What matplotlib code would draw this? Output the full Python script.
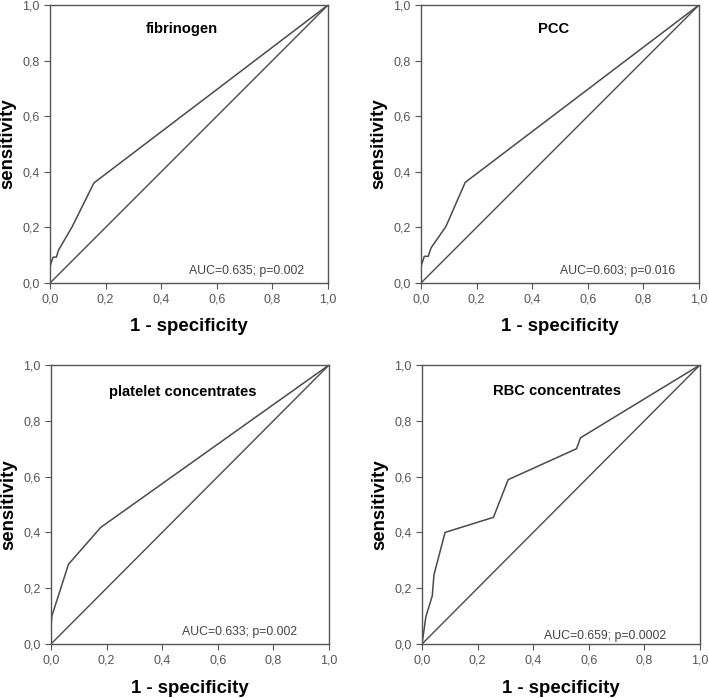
import matplotlib
matplotlib.use('Agg')
import matplotlib.pyplot as plt
from matplotlib.ticker import FuncFormatter

plt.rcParams['font.family'] = ['Liberation Sans', 'DejaVu Sans']

# ROC curves (1 - specificity, sensitivity)
fib_x = [0.0, 0.0, 0.011, 0.023, 0.030, 0.080, 0.158, 1.0]
fib_y = [0.0, 0.060, 0.093, 0.093, 0.117, 0.203, 0.360, 1.0]

pcc_x = [0.0, 0.0, 0.012, 0.026, 0.036, 0.090, 0.159, 1.0]
pcc_y = [0.0, 0.060, 0.096, 0.096, 0.126, 0.204, 0.362, 1.0]

plt_x = [0.0, 0.0, 0.003, 0.063, 0.179, 1.0]
plt_y = [0.0, 0.060, 0.100, 0.286, 0.418, 1.0]

rbc_x = [0.0, 0.014, 0.037, 0.043, 0.083, 0.257, 0.310, 0.556, 0.570, 1.0]
rbc_y = [0.0, 0.098, 0.173, 0.248, 0.400, 0.454, 0.589, 0.700, 0.739, 1.0]

titles = ['fibrinogen', 'PCC', 'platelet concentrates', 'RBC concentrates']
auc_labels = ['AUC=0.635; p=0.002', 'AUC=0.603; p=0.016',
              'AUC=0.633; p=0.002', 'AUC=0.659; p=0.0002']
curves = [(fib_x, fib_y), (pcc_x, pcc_y), (plt_x, plt_y), (rbc_x, rbc_y)]
ticks = [0.0, 0.2, 0.4, 0.6, 0.8, 1.0]

# axes placement in figure fractions
rects = [
    [50 / 709, 1 - 283 / 698, 278 / 709, 278 / 698],
    [421 / 709, 1 - 283 / 698, 278 / 709, 278 / 698],
    [51 / 709, 1 - 644 / 698, 278 / 709, 279 / 698],
    [422 / 709, 1 - 644 / 698, 278 / 709, 279 / 698],
]
title_pos = [(0.475, 0.915), (0.478, 0.915), (0.474, 0.903), (0.486, 0.906)]
auc_pos = [(0.914, 0.02), (0.914, 0.02), (0.885, 0.02), (0.878, 0.008)]
xlabel_pad = [9, 9, 10, 10]

fig = plt.figure(figsize=(7.09, 6.98), dpi=100)
fmt = FuncFormatter(lambda v, p: ('%.1f' % v).replace('.', ','))

for i in range(4):
    ax = fig.add_axes(rects[i])
    cx, cy = curves[i]
    ax.plot([0, 1], [0, 1], color='#4a4a4a', lw=1.0)
    ax.plot(cx, cy, color='#4a4a4a', lw=1.1)
    ax.set_xlim(0, 1)
    ax.set_ylim(0, 1)
    ax.set_xticks(ticks)
    ax.set_yticks(ticks)
    ax.xaxis.set_major_formatter(fmt)
    ax.yaxis.set_major_formatter(fmt)
    ax.tick_params(length=4, width=0.8, color='#555555', labelcolor='#555555',
                   labelsize=9, pad=3.5)
    for s in ax.spines.values():
        s.set_color('#555555')
        s.set_linewidth(1.0)
    ax.set_xlabel('1 - specificity', fontsize=13.4, fontweight='bold',
                  labelpad=xlabel_pad[i])
    ax.set_ylabel('sensitivity', fontsize=13.4, fontweight='bold', labelpad=4)
    ax.text(title_pos[i][0], title_pos[i][1], titles[i], transform=ax.transAxes,
            ha='center', va='center', fontsize=10.6, fontweight='bold')
    ax.text(auc_pos[i][0], auc_pos[i][1], auc_labels[i], transform=ax.transAxes,
            ha='right', va='bottom', fontsize=8.8, color='#444444')

fig.savefig('out.png', dpi=100)
